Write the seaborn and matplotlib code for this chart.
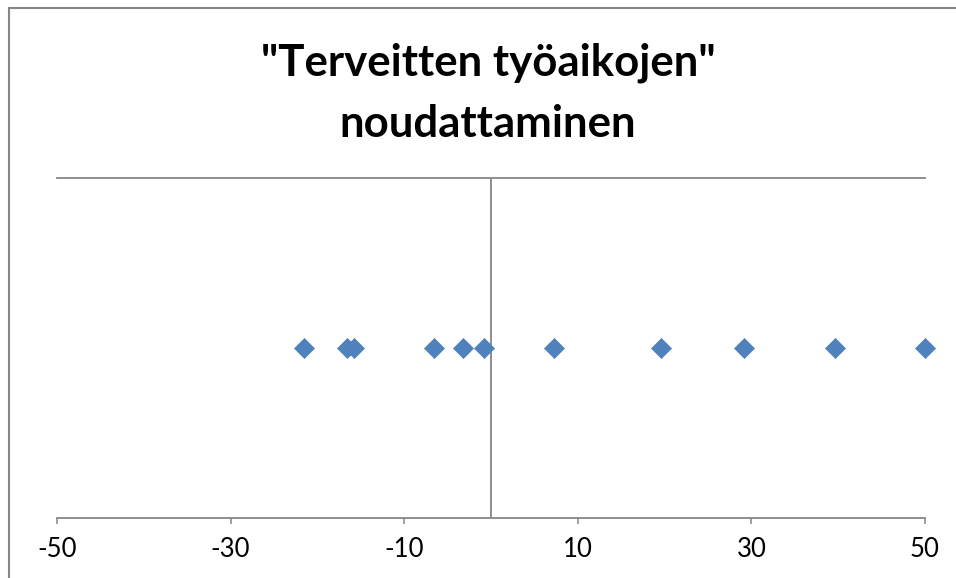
import pandas as pd
import matplotlib
matplotlib.use("Agg")
import matplotlib.pyplot as plt
import seaborn as sns
from matplotlib.patches import Rectangle

# values
poikkeama = [-21.6, -16.6, -15.8, -6.6, -3.2, -0.8, 7.3, 19.6, 29.2, 39.6, 50.0]
taso = [1, 1, 1, 1, 1, 1, 1, 1, 1, 1, 1]
x_ticks = [-50, -30, -10, 10, 30, 50]
title = '"Terveitten työaikojen"\nnoudattaminen'

df = pd.DataFrame({"x": poikkeama, "y": taso})

sns.set_theme(style="white")
plt.rcParams["font.family"] = ["Lato", "DejaVu Sans"]

W, H = 956, 578
fig = plt.figure(figsize=(W / 100, H / 100), dpi=100)
ax = fig.add_axes([57 / W, 1 - 518 / H, (925 - 57) / W, (518 - 178) / H])

grey = "#868686"
blue = "#4F81BD"

sns.scatterplot(data=df, x="x", y="y", marker="D", s=104, color=blue,
                edgecolor=blue, linewidth=0.5, ax=ax, zorder=3, clip_on=False)

ax.set_xlim(-50, 50)
ax.set_ylim(0, 2)
ax.set_xticks(x_ticks)
ax.set_xticklabels([str(t) for t in x_ticks])
ax.set_yticks([])
ax.set_xlabel("")
ax.set_ylabel("")

for side in ["left", "right"]:
    ax.spines[side].set_visible(False)
for side in ["top", "bottom"]:
    ax.spines[side].set_color(grey)
    ax.spines[side].set_linewidth(1.3)
ax.axvline(0, color=grey, lw=1.3, zorder=2)

ax.tick_params(axis="x", bottom=True, direction="out", length=4.5, width=1.1,
               color=grey, pad=9, labelsize=18.5, labelcolor="black")

fig.text(488 / W, 1 - 93 / H, title, ha="center", va="center",
         fontsize=31.5, fontweight="bold", linespacing=1.65, color="black")

# chart area border
fig.patches.append(Rectangle((9 / W, -0.1), 1.2, 1 - 8 / H + 0.1,
                             transform=fig.transFigure, fill=False,
                             edgecolor=grey, lw=1.5))

fig.savefig("out.png", dpi=100)
